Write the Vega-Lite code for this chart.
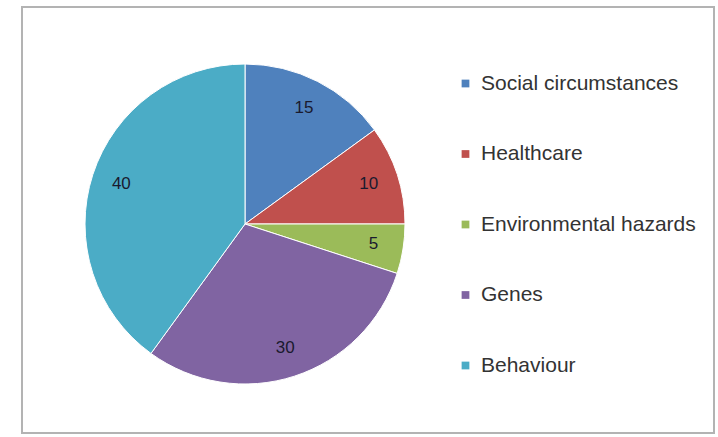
{
  "$schema": "https://vega.github.io/schema/vega-lite/v6.json",
  "autosize": "none",
  "width": 692,
  "height": 426,
  "padding": {"left": 22, "top": 7, "right": 4, "bottom": 4},
  "background": "white",
  "view": {"stroke": "#b3b3b3", "strokeWidth": 2, "fill": "white"},
  "config": {
    "font": "Liberation Sans"
  },
  "data": {
    "values": [
      {"category": "Social circumstances", "value": 15, "order": 1},
      {"category": "Healthcare", "value": 10, "order": 2},
      {"category": "Environmental hazards", "value": 5, "order": 3},
      {"category": "Genes", "value": 30, "order": 4},
      {"category": "Behaviour", "value": 40, "order": 5}
    ]
  },
  "encoding": {
    "theta": {"field": "value", "type": "quantitative", "stack": true},
    "order": {"field": "order", "type": "quantitative"}
  },
  "layer": [
    {
      "mark": {"type": "arc", "outerRadius": 160, "x": 223, "y": 217, "stroke": "white", "strokeWidth": 1},
      "encoding": {
        "color": {
          "field": "category",
          "type": "nominal",
          "sort": ["Social circumstances", "Healthcare", "Environmental hazards", "Genes", "Behaviour"],
          "scale": {
            "domain": ["Social circumstances", "Healthcare", "Environmental hazards", "Genes", "Behaviour"],
            "range": ["#4F81BD", "#C0504D", "#9BBB59", "#8064A2", "#4BACC6"]
          },
          "legend": {
            "title": null,
            "orient": "none",
            "legendX": 433,
            "legendY": 66,
            "symbolType": "square",
            "symbolSize": 60,
            "symbolStrokeWidth": 0,
            "labelFontSize": 21,
            "labelColor": "#333333",
            "labelFont": "Liberation Sans",
            "labelOffset": 5,
            "rowPadding": 48.5,
            "padding": 0,
            "labelLimit": 400
          }
        }
      }
    },
    {
      "mark": {"type": "text", "radius": 130, "x": 223, "y": 217, "fontSize": 17, "color": "#1a1a2e", "font": "Liberation Sans"},
      "encoding": {
        "text": {"field": "value", "type": "quantitative"}
      }
    }
  ]
}
